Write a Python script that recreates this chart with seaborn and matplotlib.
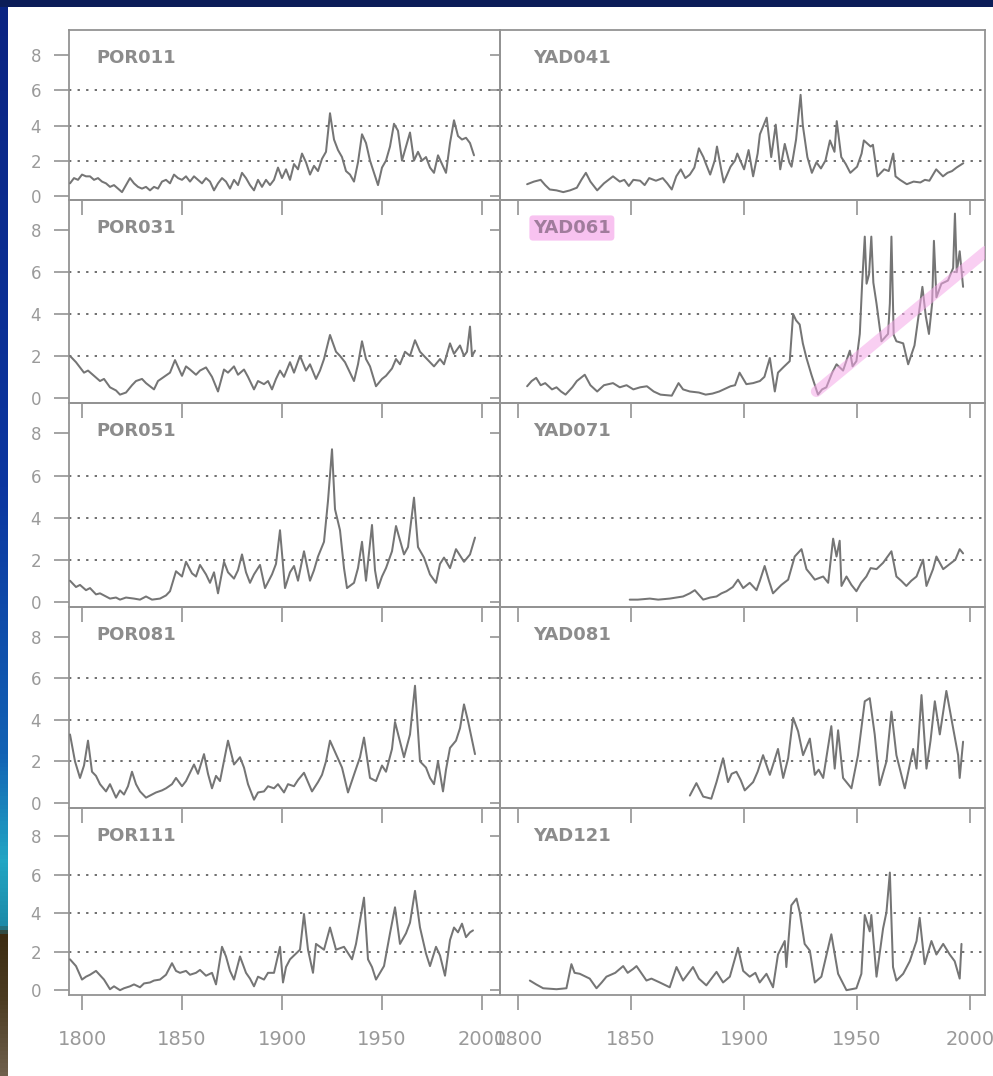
import numpy as np
import matplotlib
matplotlib.use("Agg")
import matplotlib.pyplot as plt
import seaborn as sns
from matplotlib.patches import Rectangle
from matplotlib.colors import LinearSegmentedColormap

# station names, left column then right column
left_names = ['POR011', 'POR031', 'POR051', 'POR081', 'POR111']
right_names = ['YAD041', 'YAD061', 'YAD071', 'YAD081', 'YAD121']

x_ticks = [1800, 1850, 1900, 1950, 2000]
y_ticks = [0, 2, 4, 6, 8]
grid_levels = [2, 4, 6]

# (year, value)
por011 = [(1794, 0.7), (1796, 1.0), (1798, 0.9), (1800, 1.2), (1802, 1.1), (1804, 1.1), (1806, 0.9),
          (1808, 1.0), (1810, 0.8), (1812, 0.7), (1814, 0.5), (1816, 0.6), (1818, 0.4), (1820, 0.2),
          (1822, 0.6), (1824, 1.0), (1826, 0.7), (1828, 0.5), (1830, 0.4), (1832, 0.5), (1834, 0.3),
          (1836, 0.5), (1838, 0.4), (1840, 0.8), (1842, 0.9), (1844, 0.7), (1846, 1.2), (1848, 1.0),
          (1850, 0.9), (1852, 1.1), (1854, 0.8), (1856, 1.1), (1858, 0.9), (1860, 0.7), (1862, 1.0),
          (1864, 0.8), (1866, 0.3), (1868, 0.7), (1870, 1.0), (1872, 0.8), (1874, 0.4), (1876, 0.9),
          (1878, 0.6), (1880, 1.3), (1882, 1.0), (1884, 0.6), (1886, 0.3), (1888, 0.9), (1890, 0.5),
          (1892, 0.9), (1894, 0.6), (1896, 0.9), (1898, 1.6), (1900, 1.0), (1902, 1.5), (1904, 0.9),
          (1906, 1.8), (1908, 1.5), (1910, 2.4), (1912, 1.9), (1914, 1.2), (1916, 1.7), (1918, 1.4),
          (1920, 2.1), (1922, 2.5), (1924, 4.7), (1926, 3.2), (1928, 2.6), (1930, 2.2), (1932, 1.4),
          (1934, 1.2), (1936, 0.8), (1938, 1.9), (1940, 3.5), (1942, 3.0), (1944, 2.0), (1946, 1.3),
          (1948, 0.6), (1950, 1.6), (1952, 2.0), (1954, 2.8), (1956, 4.1), (1958, 3.7), (1960, 2.0),
          (1962, 2.8), (1964, 3.6), (1966, 2.0), (1968, 2.5), (1970, 2.0), (1972, 2.2), (1974, 1.6),
          (1976, 1.3), (1978, 2.3), (1980, 1.8), (1982, 1.3), (1984, 3.0), (1986, 4.3), (1988, 3.4),
          (1990, 3.2), (1992, 3.3), (1994, 3.0), (1996, 2.3)]

por031 = [(1794, 2.0), (1797, 1.7), (1801, 1.2), (1803, 1.3), (1806, 1.05), (1809, 0.8), (1811, 0.9),
          (1814, 0.5), (1817, 0.35), (1819, 0.15), (1822, 0.25), (1825, 0.6), (1827, 0.8), (1830, 0.9),
          (1832, 0.7), (1836, 0.4), (1838, 0.8), (1841, 1.0), (1844, 1.2), (1846.5, 1.8), (1850, 1.05),
          (1852, 1.5), (1854, 1.35), (1857, 1.1), (1859, 1.3), (1862, 1.45), (1865, 1.0), (1868, 0.3),
          (1871, 1.35), (1873, 1.2), (1876, 1.5), (1878, 1.1), (1881, 1.35), (1883, 1.0), (1886, 0.4),
          (1888, 0.8), (1891, 0.65), (1893, 0.8), (1895, 0.4), (1897, 0.9), (1899, 1.3), (1901, 1.0),
          (1904, 1.7), (1906, 1.2), (1909, 2.0), (1912, 1.3), (1914, 1.6), (1917, 0.9), (1919, 1.3),
          (1921, 1.85), (1924, 3.0), (1927, 2.2), (1929, 2.0), (1931.5, 1.7), (1934, 1.2), (1936, 0.8),
          (1938, 1.6), (1940, 2.7), (1942, 1.85), (1944, 1.5), (1947, 0.55), (1950, 0.9), (1952, 1.05),
          (1955, 1.4), (1957, 1.85), (1959, 1.6), (1961.5, 2.2), (1964, 2.0), (1966.5, 2.75), (1969, 2.2),
          (1971, 2.0), (1973, 1.8), (1976, 1.5), (1979, 1.85), (1981, 1.6), (1984, 2.6), (1986, 2.1),
          (1989, 2.5), (1991, 2.0), (1992.5, 2.2), (1994, 3.4), (1995, 2.0), (1996.5, 2.25)]

por051 = [(1794, 1.0), (1797, 0.7), (1799, 0.8), (1802, 0.55), (1804, 0.65), (1807, 0.35), (1809, 0.4),
          (1812, 0.25), (1814, 0.15), (1817, 0.2), (1819, 0.1), (1822, 0.2), (1826, 0.15), (1829, 0.1),
          (1832, 0.25), (1835, 0.1), (1839, 0.15), (1842, 0.3), (1844, 0.5), (1847, 1.45), (1850, 1.2),
          (1852, 1.9), (1855, 1.35), (1857, 1.2), (1859, 1.75), (1862, 1.3), (1864, 0.9), (1866, 1.4),
          (1868, 0.4), (1871, 1.9), (1873, 1.4), (1876, 1.1), (1878, 1.5), (1880, 2.25), (1882, 1.4),
          (1884, 0.9), (1886, 1.3), (1889, 1.75), (1891.5, 0.65), (1895, 1.3), (1897, 1.8), (1899, 3.4),
          (1901.5, 0.65), (1904, 1.4), (1906, 1.7), (1908, 1.0), (1911, 2.4), (1914, 1.0), (1916, 1.5),
          (1918, 2.15), (1921, 2.85), (1923, 4.8), (1925, 7.25), (1926.5, 4.4), (1929, 3.4), (1931, 1.6),
          (1932.5, 0.65), (1936, 0.9), (1938, 1.6), (1940, 2.85), (1942, 1.0), (1945, 3.65), (1946.5, 1.5),
          (1948, 0.65), (1950, 1.2), (1952, 1.6), (1955, 2.4), (1957, 3.6), (1961, 2.25), (1963, 2.6),
          (1966, 4.95), (1968, 2.6), (1971, 2.1), (1974, 1.3), (1977, 0.9), (1979, 1.8), (1981, 2.1),
          (1984, 1.6), (1987, 2.5), (1991, 1.9), (1994, 2.25), (1996.5, 3.05)]

por081 = [(1794, 3.3), (1796.5, 2.0), (1799, 1.2), (1801, 1.8), (1803, 3.0), (1805, 1.5), (1807, 1.3),
          (1809, 0.9), (1812, 0.55), (1814, 0.9), (1817, 0.25), (1819, 0.6), (1821, 0.4), (1823, 0.8),
          (1825, 1.5), (1827, 0.9), (1829, 0.55), (1832, 0.25), (1835, 0.4), (1837, 0.5), (1840, 0.6),
          (1842, 0.7), (1845, 0.9), (1847, 1.2), (1850, 0.8), (1852, 1.05), (1856, 1.85), (1858, 1.4),
          (1861, 2.35), (1863, 1.4), (1865, 0.7), (1867, 1.3), (1869, 1.05), (1873, 3.0), (1876, 1.85),
          (1879, 2.2), (1881, 1.7), (1883, 0.9), (1886, 0.15), (1888, 0.5), (1891, 0.55), (1893, 0.8),
          (1896, 0.7), (1898, 0.9), (1901, 0.5), (1903, 0.9), (1906, 0.8), (1908, 1.1), (1911, 1.45),
          (1915, 0.55), (1918, 1.0), (1920, 1.35), (1922, 2.0), (1924, 3.0), (1927, 2.35), (1930, 1.7),
          (1933, 0.5), (1936.5, 1.5), (1939, 2.2), (1941, 3.15), (1944, 1.2), (1947, 1.05), (1950, 1.8),
          (1952, 1.5), (1955, 2.6), (1956.5, 3.9), (1961, 2.2), (1964, 3.3), (1966.5, 5.65), (1969, 2.0),
          (1972, 1.7), (1974, 1.2), (1976, 0.9), (1978, 2.0), (1980.5, 0.55), (1982, 1.6), (1984, 2.65),
          (1987, 3.0), (1989, 3.6), (1991, 4.75), (1993, 3.95), (1996.5, 2.35)]

por111 = [(1794, 1.6), (1797, 1.25), (1800, 0.55), (1802, 0.7), (1804, 0.8), (1807, 1.0), (1811, 0.55),
          (1814, 0.05), (1816, 0.2), (1819, 0.0), (1821, 0.1), (1824, 0.2), (1826, 0.3), (1829, 0.15),
          (1831, 0.35), (1834, 0.4), (1836, 0.5), (1839, 0.55), (1842, 0.8), (1845, 1.4), (1847, 1.0),
          (1849, 0.9), (1852, 1.0), (1854, 0.8), (1857, 0.9), (1859, 1.05), (1862, 0.75), (1865, 0.9),
          (1867, 0.3), (1870, 2.25), (1872, 1.75), (1874, 1.0), (1876, 0.55), (1879, 1.75), (1882, 0.9),
          (1884, 0.6), (1886, 0.2), (1888, 0.7), (1891, 0.55), (1893, 0.9), (1896, 0.9), (1899, 2.25),
          (1900.5, 0.4), (1902, 1.2), (1904, 1.6), (1907, 1.9), (1909, 2.1), (1911, 3.95), (1913, 2.1),
          (1915.5, 0.9), (1917, 2.4), (1921, 2.1), (1924, 3.25), (1927, 2.1), (1931, 2.25), (1935, 1.6),
          (1937, 2.4), (1941, 4.8), (1943, 1.6), (1945, 1.2), (1947, 0.55), (1951, 1.25), (1954, 2.95),
          (1956.5, 4.3), (1959, 2.4), (1962, 2.95), (1964, 3.5), (1966.5, 5.15), (1969, 3.25), (1972, 1.9),
          (1974, 1.25), (1977, 2.25), (1979, 1.8), (1981.5, 0.75), (1984, 2.6), (1986, 3.25), (1988, 3.0),
          (1990, 3.45), (1992, 2.75), (1994, 3.0), (1995.5, 3.1)]

yad041 = [(1804, 0.65), (1807, 0.8), (1810, 0.9), (1812, 0.6), (1814, 0.35), (1817, 0.3), (1820, 0.2),
          (1823, 0.3), (1826, 0.45), (1828, 0.9), (1830, 1.3), (1832, 0.8), (1835, 0.3), (1838, 0.7),
          (1840, 0.9), (1842, 1.1), (1845, 0.8), (1847, 0.9), (1849, 0.55), (1851, 0.9), (1854, 0.85),
          (1856, 0.6), (1858, 1.0), (1861, 0.85), (1864, 1.0), (1866, 0.7), (1868, 0.35), (1870, 1.1),
          (1872, 1.5), (1874, 1.0), (1876, 1.2), (1878, 1.6), (1880, 2.7), (1882, 2.2), (1883, 1.85),
          (1885, 1.2), (1887, 2.0), (1888, 2.8), (1890, 1.4), (1891, 0.75), (1894, 1.65), (1896, 2.0),
          (1897, 2.4), (1900, 1.5), (1902, 2.6), (1904, 1.1), (1906, 2.4), (1907, 3.5), (1910, 4.45),
          (1912, 2.2), (1914, 4.05), (1916, 1.5), (1918, 2.95), (1920, 1.9), (1921, 1.65), (1923, 3.2),
          (1925, 5.75), (1926, 4.0), (1928, 2.2), (1930, 1.3), (1932, 1.9), (1934, 1.55), (1936, 2.0),
          (1938, 3.15), (1940, 2.5), (1941, 4.25), (1943, 2.2), (1945, 1.8), (1947, 1.3), (1950, 1.65),
          (1952, 2.4), (1953, 3.15), (1956, 2.8), (1957, 2.9), (1959, 1.1), (1962, 1.5), (1964, 1.4),
          (1966, 2.4), (1967, 1.1), (1969, 0.9), (1972, 0.65), (1975, 0.8), (1978, 0.75), (1980, 0.9),
          (1982, 0.85), (1985, 1.5), (1988, 1.1), (1990, 1.3), (1992, 1.4), (1994, 1.6), (1997, 1.85)]

yad061 = [(1804, 0.55), (1806, 0.8), (1808, 0.95), (1810, 0.6), (1812, 0.7), (1815, 0.4), (1817, 0.5),
          (1819, 0.3), (1821, 0.15), (1824, 0.5), (1826, 0.8), (1829.5, 1.1), (1832, 0.6), (1835, 0.3),
          (1838, 0.6), (1842, 0.7), (1845, 0.5), (1848, 0.6), (1851, 0.4), (1854, 0.5), (1857, 0.55),
          (1860, 0.3), (1863, 0.15), (1868, 0.1), (1871, 0.7), (1873, 0.4), (1876, 0.3), (1880, 0.25),
          (1883, 0.15), (1886, 0.2), (1889, 0.3), (1891, 0.4), (1894, 0.55), (1896, 0.6), (1898, 1.2),
          (1901, 0.65), (1904, 0.7), (1907, 0.8), (1909, 1.0), (1911.4, 1.9), (1913.6, 0.3), (1915, 1.2),
          (1917.3, 1.45), (1920.2, 1.75), (1921.7, 4.0), (1923, 3.7), (1924.6, 3.5), (1926, 2.6),
          (1927.6, 1.9), (1929.8, 1.1), (1932.7, 0.15), (1934.5, 0.4), (1936.4, 0.5), (1939, 1.2),
          (1940.9, 1.6), (1943.8, 1.3), (1946.8, 2.25), (1948, 1.5), (1949.7, 1.75), (1951.2, 3.05),
          (1952.3, 5.6), (1953.4, 7.7), (1954.2, 5.45), (1955.3, 5.9), (1956.3, 7.7), (1957.2, 5.5),
          (1958.6, 4.5), (1960.8, 2.7), (1963.7, 3.05), (1964.5, 4.5), (1965.2, 7.7), (1966.2, 3.0),
          (1967.4, 2.7), (1970.4, 2.6), (1972.6, 1.6), (1975.4, 2.5), (1977.5, 4.15), (1978.9, 5.3),
          (1980.4, 3.9), (1981.8, 3.05), (1983.2, 4.5), (1984.0, 7.5), (1985.1, 4.8), (1987.3, 5.45),
          (1990.2, 5.6), (1992.5, 6.2), (1993.3, 8.8), (1994.1, 6.0), (1995.4, 7.0), (1996.9, 5.3)]

yad071 = [(1849.4, 0.1), (1853, 0.1), (1858.3, 0.15), (1862, 0.1), (1867.1, 0.15), (1870, 0.2),
          (1873, 0.25), (1876, 0.4), (1878.2, 0.55), (1881.9, 0.1), (1885, 0.2), (1887.8, 0.25),
          (1890, 0.4), (1892.2, 0.5), (1895, 0.7), (1897.3, 1.05), (1899.6, 0.65), (1902.5, 0.9),
          (1905.5, 0.55), (1907, 1.0), (1909.1, 1.7), (1911, 1.0), (1912.8, 0.4), (1916.5, 0.8),
          (1919.5, 1.05), (1922.4, 2.15), (1925.4, 2.5), (1927.6, 1.55), (1929.5, 1.3), (1931.3, 1.05),
          (1935.0, 1.2), (1937.2, 0.9), (1939.4, 3.0), (1940.9, 2.15), (1942.3, 2.9), (1943.1, 0.75),
          (1945.3, 1.2), (1947.5, 0.8), (1949.7, 0.5), (1951.8, 0.9), (1954.1, 1.2), (1956, 1.6),
          (1958.6, 1.55), (1961.5, 1.85), (1965.2, 2.4), (1967.4, 1.2), (1969.5, 1.0), (1971.8, 0.75),
          (1974, 1.0), (1976.3, 1.2), (1979.2, 2.0), (1980.7, 0.75), (1983.6, 1.55), (1985.1, 2.15),
          (1988.1, 1.55), (1991.7, 1.85), (1993.5, 2.0), (1995.4, 2.5), (1996.9, 2.3)]

yad081 = [(1876.0, 0.35), (1878.9, 0.95), (1881.9, 0.3), (1885.5, 0.2), (1887.8, 1.0), (1890.7, 2.15),
          (1892.9, 1.0), (1894.5, 1.4), (1896.6, 1.5), (1898.5, 1.1), (1900.3, 0.6), (1904.0, 1.0),
          (1906, 1.5), (1908.4, 2.3), (1911.4, 1.35), (1913, 1.9), (1915.0, 2.6), (1917.3, 1.2),
          (1919.5, 2.15), (1921.7, 4.1), (1923.9, 3.45), (1926.1, 2.3), (1929.1, 3.1), (1931.3, 1.35),
          (1933, 1.6), (1935.0, 1.2), (1938.6, 3.7), (1940.1, 1.65), (1941.6, 3.5), (1943.8, 1.2),
          (1947.5, 0.7), (1950.4, 2.3), (1953.4, 4.9), (1955.6, 5.05), (1957.8, 3.3), (1960.0, 0.85),
          (1963.0, 2.0), (1965.2, 4.4), (1967.4, 2.3), (1971.1, 0.7), (1974.8, 2.6), (1976.3, 1.65),
          (1978.5, 5.2), (1980.7, 1.65), (1982.5, 3.0), (1984.4, 4.9), (1986.6, 3.3), (1989.5, 5.4),
          (1992.5, 3.6), (1994.7, 2.3), (1995.4, 1.2), (1996.9, 2.95)]

yad121 = [(1805.2, 0.5), (1808, 0.3), (1811.1, 0.1), (1817.0, 0.05), (1821.4, 0.1), (1823.6, 1.35),
          (1825, 0.9), (1827.3, 0.85), (1831.7, 0.6), (1834.7, 0.1), (1837, 0.4), (1839.1, 0.7),
          (1843, 0.9), (1846.5, 1.25), (1848.5, 0.9), (1850.9, 1.1), (1852.4, 1.25), (1856.8, 0.5),
          (1859, 0.6), (1862.7, 0.4), (1867.1, 0.15), (1870.1, 1.2), (1873.0, 0.5), (1877.4, 1.2),
          (1880, 0.6), (1883.3, 0.25), (1887.8, 0.95), (1890.7, 0.4), (1893.7, 0.7), (1897.3, 2.2),
          (1899.6, 1.0), (1902.5, 0.7), (1905, 0.9), (1906.9, 0.4), (1909.9, 0.85), (1912.8, 0.15),
          (1915.0, 1.85), (1918.0, 2.55), (1918.7, 1.2), (1920.9, 4.4), (1923.2, 4.75), (1924.6, 4.05),
          (1926.8, 2.4), (1929.1, 2.05), (1931.3, 0.4), (1934.2, 0.7), (1938.6, 2.9), (1941.6, 0.85),
          (1945.3, 0.0), (1949.7, 0.1), (1951.9, 0.85), (1953.4, 3.9), (1955.6, 3.05), (1956.3, 3.9),
          (1958.6, 0.7), (1961.5, 3.2), (1963.0, 4.05), (1964.5, 6.1), (1965.9, 1.2), (1967.4, 0.5),
          (1970.4, 0.85), (1973.3, 1.5), (1976.3, 2.55), (1977.7, 3.75), (1979.9, 1.35), (1982.9, 2.55),
          (1985.1, 1.85), (1988.1, 2.4), (1991.0, 1.85), (1993.2, 1.5), (1995.4, 0.6), (1996.2, 2.4)]

# hand drawn pink trend on YAD061
trend_years = [1932, 2007]
trend_vals = [0.3, 7.0]

left_series = [por011, por031, por051, por081, por111]
right_series = [yad041, yad061, yad071, yad081, yad121]

sns.set_style('white')
plt.rcParams['font.family'] = ['DejaVu Sans']

W, H = 993, 1076
fig = plt.figure(figsize=(W / 100, H / 100), dpi=100)
fig.patch.set_facecolor('#0b1d58')
fig.add_artist(Rectangle((8 / W, 0), 1 - 8 / W, 1 - 7 / H, transform=fig.transFigure,
                         facecolor='white', edgecolor='none', zorder=-5))

# slide border strip on the left
strip = fig.add_axes([0, 0, 8 / W, 1 - 7 / H], zorder=-4)
slide_cmap = LinearSegmentedColormap.from_list(
    'slide', [(0, '#0a2482'), (0.45, '#0b36a0'), (0.7, '#1262b4'), (0.8, '#22a6c4'),
              (0.86, '#1c8aa8'), (0.87, '#3c2c12'), (0.93, '#4c3c22'), (1, '#6e604c')])
strip.imshow(np.linspace(0, 1, 256).reshape(-1, 1), aspect='auto', cmap=slide_cmap)
strip.axis('off')

row_edges = [30, 200, 403, 607, 808, 995]
columns = [
    (left_names, left_series, (1793.5, 2009), 69, 500, 27),
    (right_names, right_series, (1792, 2006.6), 500, 985, 33),
]

line_color = '#757575'
frame_color = '#939393'

for col, (names, series, xlim, x0, x1, text_dx) in enumerate(columns):
    for row in range(5):
        y0, y1 = row_edges[row], row_edges[row + 1]
        ax = fig.add_axes([x0 / W, 1 - y1 / H, (x1 - x0) / W, (y1 - y0) / H])
        ax.set_facecolor('none')
        years, vals = zip(*series[row])
        sns.lineplot(x=list(years), y=list(vals), ax=ax, color=line_color,
                     linewidth=1.45, estimator=None, sort=False, zorder=3)
        for lv in grid_levels:
            ax.axhline(lv, color='#6e6e6e', lw=1.4, ls=(0, (1.2, 3.2)), zorder=1)

        if names[row] == 'YAD061':
            sns.lineplot(x=trend_years, y=trend_vals, ax=ax, color='#f5a8e8',
                         linewidth=8, alpha=0.55, zorder=4)
            ax.annotate(names[row], xy=(0, 1), xycoords='axes fraction',
                        xytext=(text_dx, -33), textcoords='offset pixels',
                        fontsize=13, fontweight='bold', color='#a07c9c', va='baseline',
                        bbox=dict(boxstyle='round,pad=0.2', facecolor='#f7b8ee',
                                  edgecolor='none', alpha=0.85))
        else:
            ax.annotate(names[row], xy=(0, 1), xycoords='axes fraction',
                        xytext=(text_dx, -33), textcoords='offset pixels',
                        fontsize=13, fontweight='bold', color='#8c8c8c', va='baseline')

        ax.set_xlim(*xlim)
        ax.set_ylim(-0.25, 9.45)
        ax.set_xticks(x_ticks)
        ax.set_yticks(y_ticks)
        ax.set_xlabel('')
        ax.set_ylabel('')
        ax.tick_params(axis='x', bottom=True, direction='out', length=11, width=1.1,
                       color='#8a8a8a', labelsize=14, labelcolor='#9a9a9a', pad=14,
                       labelbottom=(row == 4))
        if col == 0:
            ax.tick_params(axis='y', left=True, direction='out', length=11, width=1.1,
                           color='#8a8a8a', labelsize=12, labelcolor='#9a9a9a', pad=9)
        else:
            ax.tick_params(axis='y', left=True, direction='out', length=7, width=1.1,
                           color='#8a8a8a', labelleft=False)
        for sp in ax.spines.values():
            sp.set_color(frame_color)
            sp.set_linewidth(1.3)

fig.savefig('out.png', dpi=100)
